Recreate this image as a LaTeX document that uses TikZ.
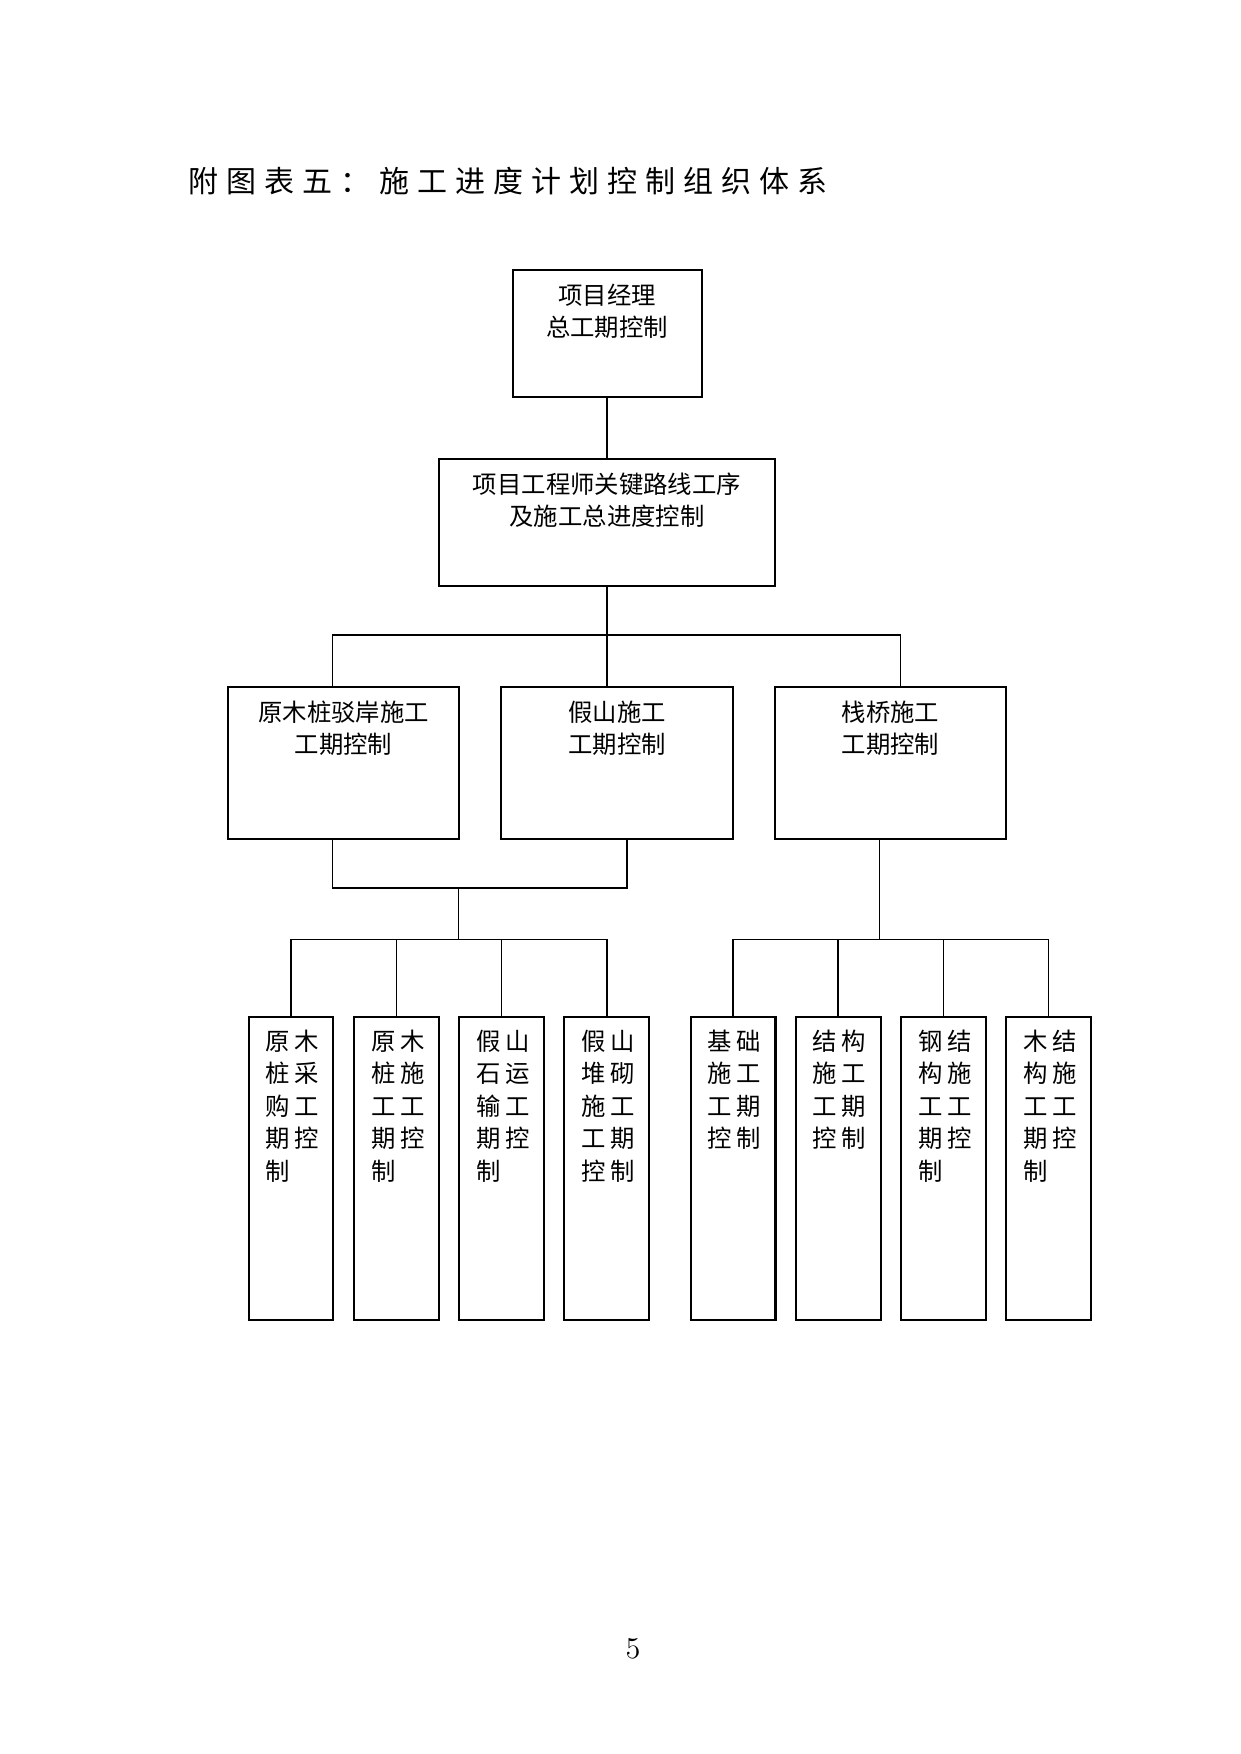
\documentclass[tikz,border=0pt]{standalone}
\usepackage{fontspec}
\newfontfamily\cjk{Noto Sans CJK SC}
\newcommand\hs{\hspace{3.85pt}}
\newcommand\gp{\hspace{2.1pt}}
% box with text at top, centred lines
\newcommand\topbox[3]{\parbox[c][#2][t]{#1}{\fontsize{11.7pt}{15.5pt}\selectfont\cjk\centering\rule{0pt}{16.6pt}#3}}
% tall box with left-aligned two-character rows
\newcommand\tallbox[1]{\parbox[c][145.7pt][t]{40.7pt}{\fontsize{11.7pt}{15.6pt}\selectfont\cjk\raggedright\leftskip=8.2pt\rule{0pt}{16.1pt}#1}}
\tikzset{
  boxnode/.style={draw, line width=1pt, rectangle, inner sep=0pt, anchor=north west},
  thinline/.style={line width=0.6pt},
  thickline/.style={line width=1pt},
}
\begin{document}
\begin{tikzpicture}[x=0.48pt,y=-0.48pt]
\useasboundingbox (0,0) rectangle (1241,1754);

% title
\node[anchor=base west, inner sep=0pt] (title) at (188.5,192.5)
  {\fontsize{14.4pt}{17pt}\selectfont\cjk 附\hs{}图\hs{}表\hs{}五\hs{}：\hs{}施\hs{}工\hs{}进\hs{}度\hs{}计\hs{}划\hs{}控\hs{}制\hs{}组\hs{}织\hs{}体\hs{}系};

% level 0 and 1
\node[boxnode] (pm) at (511.5,269) {\topbox{90.72pt}{60.96pt}{项目经理\\总工期控制}};
\node[boxnode] (pe) at (438,458) {\topbox{161.28pt}{60.96pt}{项目工程师关键路线工序\\及施工总进度控制}};

% level 2
\node[boxnode] (la) at (226.7,686) {\topbox{111.2pt}{72.8pt}{原木桩驳岸施工\\工期控制}};
\node[boxnode] (lb) at (500.3,686) {\topbox{111.2pt}{72.8pt}{假山施工\\工期控制}};
\node[boxnode] (lc) at (773.7,686) {\topbox{111.2pt}{72.8pt}{栈桥施工\\工期控制}};

% level 3
\node[boxnode] (a) at (247.5,1015.5) {\tallbox{原\gp{}木\\桩\gp{}采\\购\gp{}工\\期\gp{}控\\制}};
\node[boxnode] (b) at (353.3,1015.5) {\tallbox{原\gp{}木\\桩\gp{}施\\工\gp{}工\\期\gp{}控\\制}};
\node[boxnode] (c) at (458.3,1015.5) {\tallbox{假\gp{}山\\石\gp{}运\\输\gp{}工\\期\gp{}控\\制}};
\node[boxnode] (d) at (563.3,1015.5) {\tallbox{假\gp{}山\\堆\gp{}砌\\施\gp{}工\\工\gp{}期\\控\gp{}制}};
\node[boxnode] (e) at (689.7,1015.5) {\tallbox{基\gp{}础\\施\gp{}工\\工\gp{}期\\控\gp{}制}};
\node[boxnode] (f) at (794.7,1015.5) {\tallbox{结\gp{}构\\施\gp{}工\\工\gp{}期\\控\gp{}制}};
\node[boxnode] (g) at (900.3,1015.5) {\tallbox{钢\gp{}结\\构\gp{}施\\工\gp{}工\\期\gp{}控\\制}};
\node[boxnode] (h) at (1005.3,1015.5) {\tallbox{木\gp{}结\\构\gp{}施\\工\gp{}工\\期\gp{}控\\制}};

% page number
\node[anchor=base, inner sep=0pt] (pageno) at (633,1658) {\fontsize{14.5pt}{16pt}\selectfont 5};

% coordinates for junctions
\coordinate (busL) at (332.3,635);
\coordinate (busR) at (900.3,635);
\coordinate (k1) at (332.3,888.3);
\coordinate (k2) at (626.7,888.3);
\coordinate (k3) at (458.3,888.3);
\coordinate (bus2) at (458.3,939.3);
\coordinate (bus3) at (879.3,939.3);

% connectors
\draw[thickline] (pm.south) -- (pm.south |- pe.north);
\draw[thickline] (pe.south) -- (pe.south |- lb.north);
\draw[thinline] (busL |- la.north) -- (busL) -- (busR) -- (busR |- lc.north);

\draw[thinline] (k1 |- la.south) -- (k1);
\draw[thickline] (k1) -- (k2) -- (k2 |- lb.south);
\draw[thinline] (k3) -- (bus2);

\draw[thinline] (a.north |- bus2) -- (d.north |- bus2);
\draw[thinline] (a.north) -- (a.north |- bus2);
\draw[thinline] (b.north) -- (b.north |- bus2);
\draw[thinline] (c.north) -- (c.north |- bus2);
\draw[thickline] (d.north) -- (d.north |- bus2);

\draw[thinline] (bus3 |- lc.south) -- (bus3);
\draw[thinline] (e.north |- bus3) -- (h.north |- bus3);
\draw[thickline] (e.north) -- (e.north |- bus3);
\draw[thickline] (f.north) -- (f.north |- bus3);
\draw[thinline] (g.north) -- (g.north |- bus3);
\draw[thinline] (h.north) -- (h.north |- bus3);
\end{tikzpicture}
\end{document}
